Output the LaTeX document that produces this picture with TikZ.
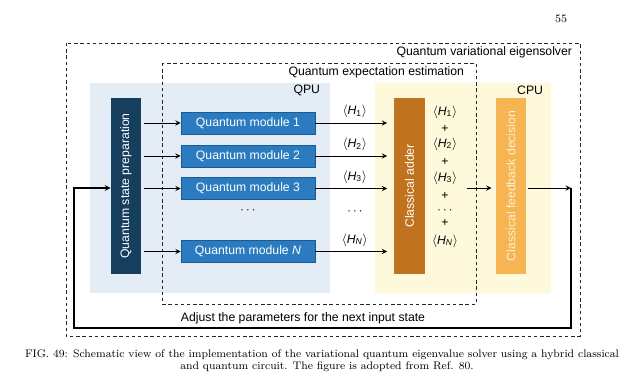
\documentclass[tikz,border=0pt]{standalone}
\usepackage{fontspec}
\setsansfont{Liberation Sans}
\usetikzlibrary{arrows}
\usetikzlibrary{positioning}

\definecolor{qpubg}{HTML}{E4ECF5}
\definecolor{cpubg}{HTML}{FFF9DC}
\definecolor{prepblue}{HTML}{163F5E}
\definecolor{modblue}{HTML}{2A7BBF}
\definecolor{modedge}{HTML}{1D5A8F}
\definecolor{adderbrown}{HTML}{C1721F}
\definecolor{decideorange}{HTML}{F6B552}
\definecolor{decidetext}{HTML}{FDF0D0}

\newcommand{\diagfont}{\sffamily\fontsize{8.7}{10}\selectfont}
\newcommand{\capfont}{\rmfamily\fontsize{7.8}{10}\selectfont}
\newcommand{\expH}[1]{$\langle$\textit{H}\textsubscript{#1}$\rangle$}

\tikzstyle{tallbox} = [rectangle, minimum width=0.75cm, minimum height=4.4cm, inner sep=0pt]
\tikzstyle{module} = [rectangle, fill=modblue, draw=modedge, text=white, minimum width=3.35cm, minimum height=0.55cm, inner sep=0pt]
\tikzstyle{sumterm} = [inner sep=0pt]
\tikzstyle{frame} = [draw=black!85, dashed, dash pattern=on 2.4pt off 2pt, line width=0.6pt]
\tikzstyle{flow} = [->, >=stealth, line width=0.7pt]

\begin{document}
\begin{tikzpicture}[x=0.025cm, y=-0.025cm, font=\diagfont]
\useasboundingbox (0,0) rectangle (640,391);

% page number
\node (page) at (561,19) {\rmfamily\fontsize{8}{10}\selectfont 55};

% processor backgrounds
\fill[qpubg] (90,83) rectangle (330,293);
\fill[cpubg] (375,83) rectangle (551,293);
\node (qpu) [anchor=east] at (325,90) {QPU};
\node (cpu) [anchor=east] at (548,90) {CPU};

% dashed frames
\draw[frame] (66,43) rectangle (580,336);
\node (vqe) [anchor=east] at (577,52) {Quantum variational eigensolver};
\draw[frame] (162,63) rectangle (476,304);
\node (qee) [anchor=east] at (469,72) {Quantum expectation estimation};

% boxes
\node (prep) [tallbox, fill=prepblue, text=white] at (126,186) {\rotatebox{90}{Quantum state preparation}};
\node (mod1) [module] at (248,123) {Quantum module 1};
\node (mod2) [module] at (248,156) {Quantum module 2};
\node (mod3) [module] at (248,188.5) {Quantum module 3};
\node (modN) [module] at (248,251.5) {Quantum module \textit{N}};
\node (dotsq) at (248,211) {$\cdots$};
\node (adder) [tallbox, fill=adderbrown, text=white] at (409.5,186) {\rotatebox{90}{Classical adder}};
\node (decide) [tallbox, fill=decideorange, text=decidetext] at (511,186) {\rotatebox{90}{Classical feedback decision}};

% prep -> modules
\draw[flow, shorten <=2pt] (prep.east |- mod1) -- (mod1.west);
\draw[flow, shorten <=2pt] (prep.east |- mod2) -- (mod2.west);
\draw[flow, shorten <=2pt] (prep.east |- mod3) -- (mod3.west);
\draw[flow, shorten <=2pt] (prep.east |- modN) -- (modN.west);

% modules -> adder
\draw[flow, shorten >=5pt] (mod1.east) -- (adder.west |- mod1) node[midway, above] {\expH{1}};
\draw[flow, shorten >=5pt] (mod2.east) -- (adder.west |- mod2) node[midway, above] {\expH{2}};
\draw[flow, shorten >=5pt] (mod3.east) -- (adder.west |- mod3) node[midway, above] {\expH{3}};
\draw[flow, shorten >=5pt] (modN.east) -- (adder.west |- modN) node[midway, above] {\expH{\textit{N}}};
\node (dotsh) at (355,212) {$\cdots$};

% sum column
\node (s1) [sumterm] at (445,112) {\expH{1}};
\node (s2) [sumterm] at (445,129) {+};
\node (s3) [sumterm] at (445,144) {\expH{2}};
\node (s4) [sumterm] at (445,162) {+};
\node (s5) [sumterm] at (445,178) {\expH{3}};
\node (s6) [sumterm] at (445,196) {+};
\node (s7) [sumterm] at (445,211) {$\cdots$};
\node (s8) [sumterm] at (445,223) {+};
\node (s9) [sumterm] at (445,241) {\expH{\textit{N}}};

% adder -> decision -> loop back
\coordinate (sumout) at (467,188);
\coordinate (loopR) at (571,188);
\coordinate (loopRB) at (571,328);
\coordinate (loopLB) at (74,328);
\coordinate (loopL) at (74,188);
\draw[flow, shorten >=3pt] (sumout) -- (decide.west |- sumout);
\draw[flow, shorten <=1.5pt] (decide.east |- loopR) -- (loopR);
\draw[flow, line width=0.9pt] (loopR) -- (loopRB) -- (loopLB) -- (loopL) -- (prep.west |- loopL);
\node (adjust) at (303,318) {Adjust the parameters for the next input state};

% caption
\node (cap1) at (322,355) {\capfont FIG. 49: Schematic view of the implementation of the variational quantum eigenvalue solver using a hybrid classical};
\node (cap2) at (327,367) {\capfont and quantum circuit. The figure is adopted from Ref. 80.};
\end{tikzpicture}
\end{document}
